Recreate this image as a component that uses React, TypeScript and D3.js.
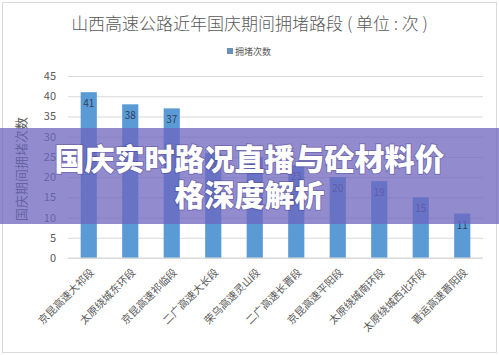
import { useEffect, useRef } from 'react'
import * as d3 from 'd3'

const W = 499
const H = 355
const MARGIN = { top: 76, right: 16, bottom: 97, left: 68 }

const sections = [
  '京昆高速大祁段', '太原绕城东环段', '京昆高速祁临段', '二广高速大长段', '荣乌高速灵山段',
  '二广高速长晋段', '京昆高速平阳段', '太原绕城南环段', '太原绕城西北环段', '晋运高速晋阳段',
]
const jamCounts = [41, 38, 37, 26, 25, 23, 20, 19, 15, 11]
const yTicks = [0, 5, 10, 15, 20, 25, 30, 35, 40, 45]

const BAR = '#5b9bd5'
const TEXT = '#595959'
const FONT = '"Noto Sans CJK SC", "Noto Sans", sans-serif'

export default function App() {
  const svgRef = useRef<SVGSVGElement>(null)

  useEffect(() => {
    const svg = d3.select(svgRef.current!)
    svg.selectAll('*').remove()

    const innerW = W - MARGIN.left - MARGIN.right
    const innerH = H - MARGIN.top - MARGIN.bottom

    svg.append('rect').attr('width', W).attr('height', H).attr('fill', '#fff')
    svg.append('rect')
      .attr('x', 2.5).attr('y', 2.5).attr('width', W - 5).attr('height', H - 5)
      .attr('fill', 'none').attr('stroke', '#d9d9d9')

    // title + legend
    svg.append('text')
      .attr('x', W / 2).attr('y', 30).attr('text-anchor', 'middle')
      .attr('font-size', 17).attr('font-weight', 300).attr('fill', TEXT).attr('font-family', FONT)
      .text('山西高速公路近年国庆期间拥堵路段 ( 单位 : 次 )')
    svg.append('rect').attr('x', 227).attr('y', 48).attr('width', 6).attr('height', 6).attr('fill', '#6a8fb8')
    svg.append('text')
      .attr('x', 235).attr('y', 55).attr('font-size', 9).attr('fill', TEXT).attr('font-family', FONT)
      .text('拥堵次数')

    const g = svg.append('g').attr('transform', `translate(${MARGIN.left},${MARGIN.top})`)

    const x = d3.scaleBand<string>().domain(sections).range([0, innerW]).paddingInner(0.61).paddingOuter(0.305)
    const y = d3.scaleLinear([0, 45], [innerH, 0])

    // grid
    g.append('g')
      .call(d3.axisLeft(y).tickValues(yTicks).tickSize(-innerW).tickFormat(() => ''))
      .call(a => a.select('.domain').remove())
      .call(a => a.selectAll('.tick line').attr('stroke', '#d9d9d9'))

    // y labels
    g.append('g')
      .call(d3.axisLeft(y).tickValues(yTicks).tickSize(0).tickPadding(12))
      .call(a => a.select('.domain').remove())
      .call(a => a.selectAll('text').attr('fill', TEXT).attr('font-size', 11).attr('font-family', FONT))

    g.append('text')
      .attr('transform', 'rotate(-90)')
      .attr('x', -y(22)).attr('y', -42)
      .attr('text-anchor', 'middle').attr('font-size', 13).attr('fill', TEXT).attr('font-family', FONT)
      .text('国庆期间拥堵次数')

    // bars
    g.selectAll('rect.bar')
      .data(jamCounts)
      .join('rect')
      .attr('class', 'bar')
      .attr('x', (_, i) => x(sections[i])!)
      .attr('y', d => y(d))
      .attr('width', x.bandwidth())
      .attr('height', d => innerH - y(d))
      .attr('fill', BAR)

    g.selectAll('text.val')
      .data(jamCounts)
      .join('text')
      .attr('class', 'val')
      .attr('x', (_, i) => x(sections[i])! + x.bandwidth() / 2)
      .attr('y', d => y(d) + 15)
      .attr('text-anchor', 'middle').attr('font-size', 10).attr('fill', '#2f3f5f').attr('font-family', FONT)
      .text(d => d)

    // x axis
    g.append('line').attr('x1', 0).attr('x2', innerW).attr('y1', innerH).attr('y2', innerH).attr('stroke', '#d9d9d9')
    g.selectAll('text.cat')
      .data(sections)
      .join('text')
      .attr('class', 'cat')
      .attr('transform', d => `translate(${x(d)! + x.bandwidth() / 2 + 6},${innerH + 15}) rotate(-45)`)
      .attr('text-anchor', 'end').attr('font-size', 10.5).attr('fill', TEXT).attr('font-family', FONT)
      .text(d => d)

    // overlay banner
    svg.append('rect')
      .attr('x', 0).attr('y', 128).attr('width', W).attr('height', 96)
      .attr('fill', '#6e66bf').attr('opacity', 0.75)
    const banner = ['国庆实时路况直播与砼材料价', '格深度解析']
    banner.forEach((t, i) => {
      svg.append('text')
        .attr('x', W / 2).attr('y', 170 + i * 36)
        .attr('text-anchor', 'middle').attr('font-size', 30).attr('font-weight', 900)
        .attr('fill', '#fff').attr('font-family', FONT)
        .style('paint-order', 'stroke').attr('stroke', 'rgba(60,50,120,0.35)').attr('stroke-width', 2)
        .text(t)
    })
  }, [])

  return (
    <div style={{ position: 'fixed', left: 0, top: 0 }}>
      <svg ref={svgRef} width={W} height={H} style={{ display: 'block' }} />
    </div>
  )
}
